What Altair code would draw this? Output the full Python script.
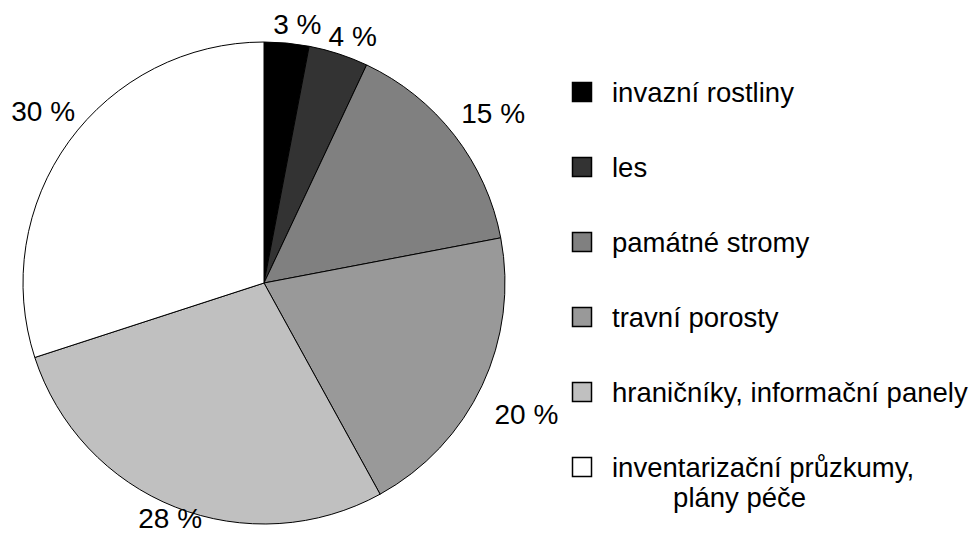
import altair as alt
import pandas as pd

categories = [
    "invazní rostliny",
    "les",
    "památné stromy",
    "travní porosty",
    "hraničníky, informační panely",
    "inventarizační průzkumy, plány péče",
]
legend_labels = [
    "invazní rostliny",
    "les",
    "památné stromy",
    "travní porosty",
    "hraničníky, informační panely",
    "inventarizační průzkumy,\n\u200b" + "\u00a0" * 8 + "plány péče",
]
values = [3, 4, 15, 20, 28, 30]
pct_labels = ["3 %", "4 %", "15 %", "20 %", "28 %", "30 %"]
colors = ["#000000", "#333333", "#808080", "#999999", "#c0c0c0", "#ffffff"]

df = pd.DataFrame({
    "cat": categories,
    "legend_label": legend_labels,
    "value": values,
    "label": pct_labels,
    "idx": list(range(len(categories))),
})

FONT = "Liberation Sans"
CX, CY = 256, 275
TWO_PI = 6.283185307179586

color = alt.Color("cat:N", scale=alt.Scale(domain=categories, range=colors), legend=None)
theta_scale = alt.Scale(domain=[0, 100], range=[0, TWO_PI])

pie = alt.Chart(df).mark_arc(outerRadius=241, stroke="black", strokeWidth=1).encode(
    theta=alt.Theta("value:Q", stack=True, scale=theta_scale),
    order=alt.Order("idx:Q"),
    color=color,
    x=alt.value(CX), y=alt.value(CY),
)

lab_base = alt.Chart(df).transform_window(
    cum="sum(value)", sort=[{"field": "idx"}], frame=[None, 0]
).transform_calculate(
    mid="datum.cum - datum.value / 2"
)


def pct_layer(cond, r, dx, dy):
    return lab_base.transform_filter(cond).mark_text(
        radius=r, font=FONT, fontSize=28, align="center", baseline="middle",
        dx=dx, dy=dy, color="black",
    ).encode(
        theta=alt.Theta("mid:Q", stack=None, scale=theta_scale),
        x=alt.value(CX), y=alt.value(CY), text="label:N",
    )


pct_top = pct_layer("datum.mid < 10", 258, 9, 0)
pct_bottom = pct_layer("datum.mid > 40 && datum.mid < 75", 255, 0, 0)
pct_right = pct_layer("datum.mid >= 10 && datum.mid <= 40", 290, 0, 10)
pct_left = pct_layer("datum.mid >= 75", 273, 0, -10)

ypos = alt.Y("cat:N", scale=alt.Scale(type="point", domain=categories, range=[84, 459], padding=0), axis=None)

leg_sym = alt.Chart(df).mark_square(size=361, stroke="black", strokeWidth=1.5, opacity=1).encode(
    x=alt.value(574), y=ypos, color=color, fill=color,
)

leg_txt = alt.Chart(df).mark_text(font=FONT, fontSize=27.5, align="left", baseline="alphabetic",
                                  dy=10, lineBreak="\n", lineHeight=30, color="black").encode(
    x=alt.value(604), y=ypos, text="legend_label:N",
)

chart = alt.layer(pie, pct_top, pct_bottom, pct_right, pct_left, leg_sym, leg_txt).properties(
    width=963, height=527, autosize="none", padding=0,
).configure_view(stroke=None)

chart.save("out.html", embed_options={"renderer": "svg", "actions": False})
